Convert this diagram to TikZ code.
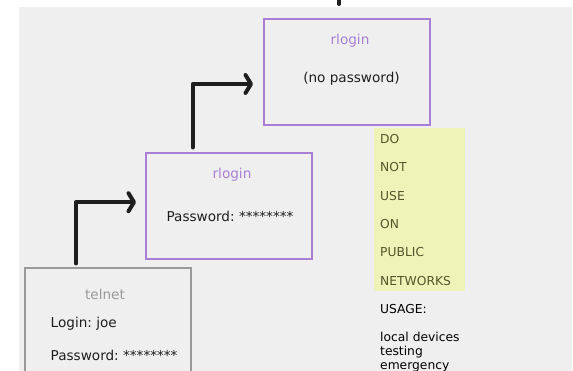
\documentclass[tikz,border=0pt]{standalone}
\usepackage{fontspec}
\setmainfont{DejaVu Sans}
\usetikzlibrary{arrows.meta}
\definecolor{panel}{HTML}{EFEFEF}
\definecolor{lilac}{HTML}{A87FD4}
\definecolor{greyline}{HTML}{9A9A9A}
\definecolor{note}{HTML}{EEF3B8}
\definecolor{olive}{HTML}{55552A}
\definecolor{ink}{HTML}{1E1E1E}
\frenchspacing
\begin{document}
\begin{tikzpicture}[x=1pt,y=-1pt,
  box/.style={draw, line width=2pt, minimum width=166pt, minimum height=106pt,
    inner sep=0pt, anchor=north west},
  lbl/.style={inner sep=0pt, font=\fontsize{13.6}{16}\selectfont\frenchspacing, text=ink},
  side/.style={inner sep=0pt, font=\fontsize{12.3}{15}\selectfont\frenchspacing, anchor=base west},
  conn/.style={draw=ink, line width=4pt, line cap=round, line join=round,
    -{Straight Barb[length=5.5pt,width=18pt,round]}},
  stub/.style={draw=ink, line width=4pt, line cap=round}
]
\clip (0,0) rectangle (573,371);
\fill[panel] (19,7) rectangle (572,371);

% boxes
\node[box, draw=lilac] (r1) at (263,18) {};
\node[box, draw=lilac] (r2) at (145,152.5) {};
\node[box, draw=greyline, minimum height=130pt] (tn) at (24,267.5) {};
\node[fill=note, minimum width=91pt, minimum height=163pt, inner sep=0pt,
  anchor=north west] (warn) at (374,128) {};

% box texts
\node[lbl, text=lilac, anchor=base] (r1t) at (350,45) {rlogin};
\node[lbl, anchor=base] (r1b) at (351.5,83) {(no password)};
\node[lbl, text=lilac, anchor=base] (r2t) at (232,179) {rlogin};
\node[lbl, anchor=base] (r2b) at (230,221.5) {Password: ********};
\node[lbl, text=greyline, anchor=base] (tnt) at (105,299.5) {telnet};
\node[lbl, anchor=base west] (tnl) at (50.5,328) {Login: joe};
\node[lbl, anchor=base west] (tnp) at (50.5,360) {Password: ********};

% warning words
\node[side, text=olive] (w1) at (380,143.3) {DO};
\node[side, text=olive] (w2) at (380,171.7) {NOT};
\node[side, text=olive] (w3) at (380,200.1) {USE};
\node[side, text=olive] (w4) at (380,228.5) {ON};
\node[side, text=olive] (w5) at (380,256.9) {PUBLIC};
\node[side, text=olive] (w6) at (380,285.3) {NETWORKS};

% usage
\node[side, text=black] (u0) at (380,313.5) {USAGE:};
\node[side, text=black] (u1) at (380,341.7) {local devices};
\node[side, text=black] (u2) at (380,355.5) {testing};
\node[side, text=black] (u3) at (380,369.3) {emergency};

% connectors
\draw[conn, shorten >=9pt] ([xshift=-32pt,yshift=4pt]tn.north) |- ([yshift=4.3pt]r2.west);
\draw[conn, shorten >=10pt] ([xshift=-36.3pt,yshift=5pt]r2.north) |- ([yshift=-12pt]r1.west);
\coordinate (s1) at (339,4);
\coordinate (s0) at (339,-6);
\draw[stub] (s1) -- (s0);
\end{tikzpicture}
\end{document}
